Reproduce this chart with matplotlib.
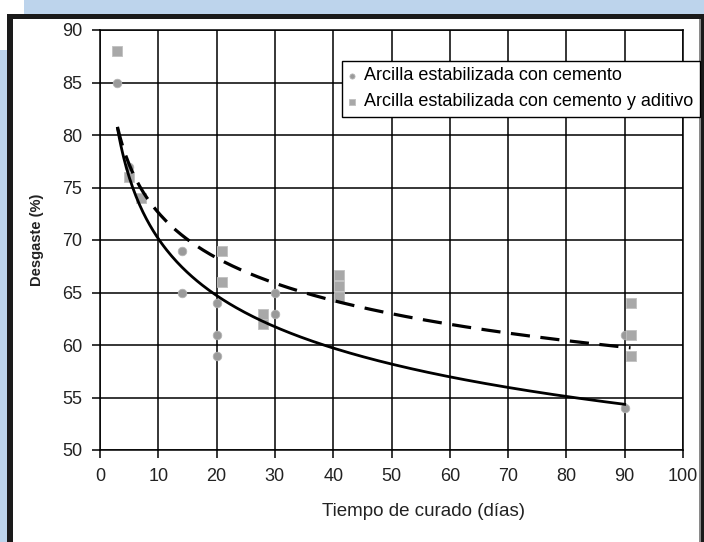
import numpy as np
import matplotlib
matplotlib.use("Agg")
import matplotlib.pyplot as plt
from matplotlib.patches import Rectangle

# data
cem_x = [3, 5, 14, 14, 20, 20, 20, 30, 30, 90, 90]
cem_y = [85, 77, 69, 65, 64, 61, 59, 65, 63, 61, 54]
add_x = [3, 5, 7, 21, 21, 28, 28, 41, 41, 41, 91, 91, 91]
add_y = [88, 76, 74, 69, 66, 63, 62, 66.7, 65.6, 64.6, 64, 61, 59]

# power trendlines y = a * x^b (as shown on the chart)
cem_trend = (91.6, -0.116)
add_trend = (89.0, -0.0884)

labels = ["Arcilla estabilizada con cemento",
          "Arcilla estabilizada con cemento y aditivo"]
x_ticks = list(range(0, 101, 10))
y_ticks = list(range(50, 91, 5))

W, H = 704, 542
fig = plt.figure(figsize=(W / 100, H / 100), dpi=100)
fig.patch.set_facecolor("white")


def box(x0, y0, x1, y1, color, z=0):
    # pixel box, origin top-left
    r = Rectangle((x0 / W, 1 - y1 / H), (x1 - x0) / W, (y1 - y0) / H,
                  transform=fig.transFigure, facecolor=color,
                  edgecolor="none", zorder=z)
    fig.add_artist(r)


blue = "#bdd4ec"
box(24, 0, W, 14, blue)
box(0, 50, 7, H, blue)
box(7, 14, W, H, "#1a1a1a")
box(13, 19, 699, H, "white")
box(699, 19, 701, H, "#8a8a8a")

ax = fig.add_axes([100 / W, 1 - 450 / H, 583 / W, 420 / H])
ax.set_facecolor("none")

ax.scatter(cem_x, cem_y, s=38, marker="o", color="#9a9a9a",
           edgecolors="#b5b5b5", linewidths=0.6, zorder=3, label=labels[0])
ax.scatter(add_x, add_y, s=52, marker="s", color="#a8a8a8",
           edgecolors="#c0c0c0", linewidths=0.6, zorder=3, label=labels[1])

xc = np.linspace(min(cem_x), max(cem_x), 300)
ax.plot(xc, cem_trend[0] * xc ** cem_trend[1], color="black", lw=2.0, zorder=4)
xa = np.linspace(min(add_x), max(add_x), 300)
ax.plot(xa, add_trend[0] * xa ** add_trend[1], color="black", lw=2.3,
        linestyle=(0, (6, 3.3)), zorder=4)

ax.set_xlim(0, 100)
ax.set_ylim(50, 90)
ax.set_xticks(x_ticks)
ax.set_yticks(y_ticks)
ax.grid(True, color="black", lw=1.1)
ax.set_axisbelow(True)
for s in ax.spines.values():
    s.set_color("black")
    s.set_linewidth(1.1)

font = ["Liberation Sans", "DejaVu Sans"]
ax.tick_params(direction="out", length=6, width=1.1, color="black", pad=7)
for t in ax.get_xticklabels() + ax.get_yticklabels():
    t.set_family(font)
    t.set_fontsize(13)
    t.set_color("#222222")

ax.set_xlabel("Tiempo de curado (días)", family=font, fontsize=13.5,
              color="#222222")
ax.xaxis.set_label_coords(0.555, -0.125)
ax.set_ylabel("Desgaste (%)", family=font, fontsize=10.5,
              fontweight="bold", color="#222222", labelpad=13)

leg = ax.legend(loc="upper right", bbox_to_anchor=(700 / W, 1 - 61 / H),
                bbox_transform=fig.transFigure, frameon=True, fancybox=False,
                edgecolor="black", framealpha=1, borderpad=0.35,
                handlelength=0.4, handletextpad=0.5, labelspacing=0.5,
                markerscale=0.6, borderaxespad=0,
                prop={"family": font, "size": 13})
leg.get_frame().set_linewidth(1.0)
leg.set_zorder(5)

fig.savefig("out.png", dpi=100)
